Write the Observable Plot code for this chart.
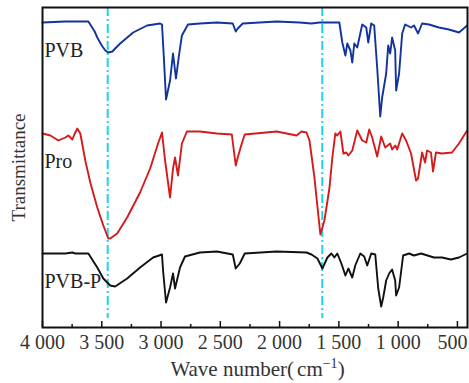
<!DOCTYPE html>
<html>
<head>
<meta charset="utf-8">
<script src="https://cdn.jsdelivr.net/npm/d3@7"></script>
<script src="https://cdn.jsdelivr.net/npm/@observablehq/plot@0.6"></script>
<style>
  body { margin: 0; background: #fff; }
  #chart { width: 469px; }
  #xtitle {
    font-family: "Liberation Serif", "Times New Roman", serif;
    font-size: 21px; color: #333; line-height: 24px;
    margin-top: 7px; padding-left: 46px; width: 423px; text-align: center;
  }
  #xtitle sup { font-size: 14px; vertical-align: 8px; line-height: 0; }
</style>
</head>
<body>
<div id="chart"></div>
<script>
// ---- data (wavenumber in cm^-1, transmittance in arbitrary units) ----
const seriesNames = ["PVB", "Pro", "PVB-P"];

const pvbWave = [4000,3807,3613,3560,3538,3500,3470,3445,3410,3387,3345,3235,3118,3008,2992,2975,2958,2924,2899,2874,2849,2824,2773,2672,2529,2395,2370,2353,2311,2025,1832,1731,1664,1496,1471,1445,1429,1403,1387,1370,1345,1303,1269,1252,1227,1202,1177,1151,1135,1101,1084,1067,1051,1025,1017,992,966,941,891,866,832,798,740,656,572,487,418];
const pvbT    = [305,306,306,296,290,282,277,275,276,279,284,295,302,304,303,267,228,247,274,249,272,292,303,304,305,304,296,299,304,306,305,304,305,305,285,272,284,277,265,284,280,303,300,285,304,302,260,211,230,254,282,274,290,277,237,254,294,303,300,302,294,304,303,300,298,295,302];

const proWave = [4000,3933,3866,3807,3782,3748,3731,3706,3681,3639,3597,3538,3487,3445,3429,3370,3286,3177,3092,3025,2992,2966,2924,2899,2882,2857,2824,2782,2672,2529,2403,2370,2353,2319,2294,2025,1941,1857,1815,1773,1748,1706,1689,1656,1622,1580,1555,1530,1513,1487,1462,1437,1420,1387,1345,1303,1269,1244,1219,1177,1143,1109,1067,1051,1025,1008,966,933,891,849,832,798,773,756,723,706,681,630,546,487,418];
const proT    = [194,192,187,190,192,188,193,199,194,167,145,120,102,89,89,94,110,135,159,184,195,167,130,159,170,152,184,196,196,194,193,162,170,184,193,196,194,192,196,195,187,150,130,93,107,139,170,194,192,196,174,175,172,177,197,187,185,198,190,171,191,180,184,178,182,178,194,187,174,147,149,175,165,177,175,156,175,174,175,184,197];

const pvbpWave = [4000,3807,3748,3723,3613,3538,3487,3429,3387,3286,3177,3067,2992,2983,2958,2924,2899,2882,2840,2798,2672,2529,2395,2370,2336,2294,2025,1773,1731,1681,1639,1597,1563,1538,1513,1479,1445,1420,1387,1362,1319,1286,1261,1227,1193,1168,1143,1126,1101,1076,1051,1025,1017,992,958,908,866,807,698,630,555,487,418];
const pvbpT    = [74,74,75,74,74,60,49,42,41,49,60,70,73,57,25,40,54,39,60,71,75,76,73,59,64,74,76,75,73,69,59,70,74,70,74,64,52,59,50,62,74,71,62,74,73,39,21,30,47,54,58,47,32,40,72,74,72,74,70,70,68,70,74];

const markerLines = [3450, 1640];               // dashed guide lines (cm^-1)
const majorTicks = [4000,3500,3000,2500,2000,1500,1000,500];
const majorTickLabels = ["4 000","3 500","3 000","2 500","2 000","1 500","1 000","500"];
const minorTicks = [3750,3250,2750,2250,1750,1250,750];
const yLabel = "Transmittance";

// ---- build table ----
const waves = [pvbWave, proWave, pvbpWave];
const trans = [pvbT, proT, pvbpT];
const rows = [];
seriesNames.forEach((s, k) => waves[k].forEach((w, i) => rows.push({series: s, w, t: trans[k][i]})));
const firstT = trans.map(a => a[0]);
const yMid = 160;

const colors = ["#12339f", "#d41a1a", "#111111"];
const serif = '"Liberation Serif", "Times New Roman", serif';
const fmt = d => majorTickLabels[majorTicks.indexOf(d)];

const plot = Plot.plot({
  width: 469,
  height: 350,
  marginTop: 7,
  marginBottom: 23,
  marginLeft: 42,
  marginRight: 2,
  style: {fontFamily: serif, fontSize: "20px", color: "#333", background: "#fff", overflow: "visible"},
  x: {domain: [4000, 415], axis: null},
  y: {domain: [0, 320], axis: null},
  color: {domain: seriesNames, range: colors},
  marks: [
    Plot.ruleX(markerLines, {x: d => d, stroke: "#19d6e6", strokeWidth: 2, strokeDasharray: "9,3,2,3", insetBottom: 9}),
    Plot.line(rows, {x: "w", y: "t", z: "series", stroke: "series", strokeWidth: 1.9, curve: "linear"}),
    Plot.tickX(majorTicks, {x: d => d, stroke: "#111", strokeWidth: 1.5, insetTop: 314}),
    Plot.tickX(minorTicks, {x: d => d, stroke: "#111", strokeWidth: 1.5, insetTop: 317}),
    Plot.frame({stroke: "#111", strokeWidth: 2}),
    Plot.axisX(majorTicks.slice(0, -1), {tickSize: 0, tickPadding: 7, fontSize: 20, fill: "#333",
      tickFormat: fmt, label: null}),
    Plot.axisX(majorTicks.slice(-1), {tickSize: 0, tickPadding: 7, fontSize: 20, fill: "#333",
      tickFormat: fmt, label: null, textAnchor: "end", dx: 10}),
    Plot.text(seriesNames, {x: () => 4000, y: (d, i) => firstT[i], dx: 2, dy: 28, text: d => d,
      textAnchor: "start", fontSize: 20, fill: "#222"}),
    Plot.text([yLabel], {x: () => 4000, y: () => yMid, rotate: -90, dx: -24, textAnchor: "middle",
      lineAnchor: "middle", fontSize: 19, fill: "#333", text: d => d})
  ]
});
const chart = document.getElementById("chart");
chart.appendChild(plot);
const title = document.createElement("div");
title.id = "xtitle";
title.innerHTML = 'Wave number(<span style="margin-left:3px">cm</span><sup>−1</sup>)';
chart.appendChild(title);
</script>
</body>
</html>
